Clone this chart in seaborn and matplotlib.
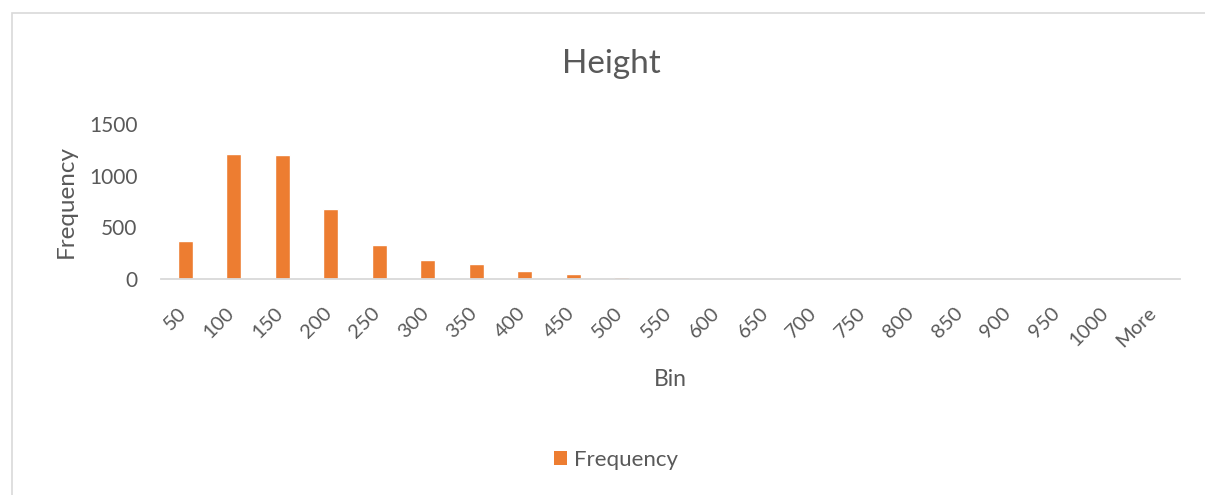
import matplotlib
matplotlib.use("Agg")
import matplotlib.pyplot as plt
import matplotlib.transforms as mtransforms
from matplotlib.patches import Rectangle, Patch
import seaborn as sns
import pandas as pd

# Histogram bins and counts
bins = ["50", "100", "150", "200", "250", "300", "350", "400", "450", "500",
        "550", "600", "650", "700", "750", "800", "850", "900", "950", "1000", "More"]
frequency = [370, 1211, 1196, 675, 331, 185, 141, 80, 45, 15,
             3, 1, 0, 0, 0, 0, 0, 0, 0, 0, 0]
y_ticks = [0, 500, 1000, 1500]

ORANGE = "#ED7D31"
TEXT = "#595959"
LINE = "#D9D9D9"

sns.set_theme(style="white")
plt.rcParams["font.family"] = ["Lato", "DejaVu Sans"]

df = pd.DataFrame({"Bin": bins, "Frequency": frequency})

fig = plt.figure(figsize=(12.05, 4.95), dpi=100)
ax = fig.add_axes([161 / 1205, 1 - 279 / 495, (1180 - 161) / 1205, (279 - 124) / 495])

sns.barplot(data=df, x="Bin", y="Frequency", color=ORANGE, width=0.31,
            saturation=1, ax=ax)

ax.set_xlim(-0.5, len(bins) - 0.5)
ax.set_ylim(0, 1500)
ax.set_yticks(y_ticks)
ax.set_yticklabels([str(v) for v in y_ticks])

for side in ["top", "right", "left"]:
    ax.spines[side].set_visible(False)
ax.spines["bottom"].set_color(LINE)
ax.spines["bottom"].set_linewidth(1.3)

ax.tick_params(axis="x", length=0, pad=18, labelsize=14.5, colors=TEXT)
ax.tick_params(axis="y", length=0, pad=17, labelsize=15, colors=TEXT)
shift = mtransforms.ScaledTranslation(4 / 100, 0, fig.dpi_scale_trans)
for lbl in ax.get_xticklabels():
    lbl.set_rotation(45)
    lbl.set_ha("right")
    lbl.set_va("top")
    lbl.set_transform(lbl.get_transform() + shift)

ax.set_xlabel("Bin", fontsize=16.5, color=TEXT)
ax.xaxis.set_label_coords(0.5, -0.58)
ax.set_ylabel("Frequency", fontsize=17.5, color=TEXT)
ax.yaxis.set_label_coords(-0.083, 0.5)

fig.text(611 / 1205, 1 - 64 / 495, "Height", ha="center", va="center",
         fontsize=24, color=TEXT)

handles = [Patch(facecolor=ORANGE, edgecolor="none", label="Frequency")]
fig.legend(handles=handles, loc="center", bbox_to_anchor=(616 / 1205, 1 - 460 / 495),
           frameon=False, fontsize=16, labelcolor=TEXT, handlelength=0.6,
           handleheight=0.6, handletextpad=0.3)

# Chart-area border
fig.patches.append(Rectangle((12 / 1205, -0.1), 1.2, 1 - 13 / 495 + 0.1,
                             transform=fig.transFigure, fill=False,
                             edgecolor=LINE, linewidth=1.2))

fig.savefig("out.png", dpi=100, facecolor="white")
